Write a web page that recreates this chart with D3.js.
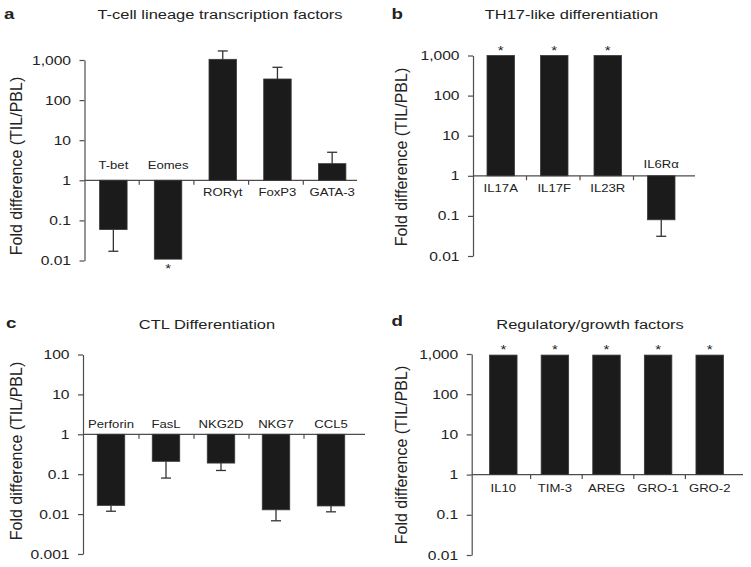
<!DOCTYPE html>
<html>
<head>
<meta charset="utf-8">
<script src="https://cdn.jsdelivr.net/npm/d3@7"></script>
<style>
  body { margin: 0; background: #fff; }
  text { font-family: "Liberation Sans", Arial, sans-serif; fill: #222; }
</style>
</head>
<body>
<svg id="chart" width="751" height="567"></svg>
<script>
// panel a: T-cell lineage transcription factors
var aGenes = ["T-bet", "Eomes", "RORγt", "FoxP3", "GATA-3"];
var aFold  = [0.059, 0.0108, 1040, 336, 2.6];
var aErr   = [0.017, null, 1680, 658, 5.0];
var aStar  = [false, true, false, false, false];

// panel b: TH17-like differentiation
var bGenes = ["IL17A", "IL17F", "IL23R", "IL6Rα"];
var bFold  = [1000, 1000, 1000, 0.08];
var bErr   = [null, null, null, 0.031];
var bStar  = [true, true, true, false];

// panel c: CTL differentiation
var cGenes = ["Perforin", "FasL", "NKG2D", "NKG7", "CCL5"];
var cFold  = [0.0165, 0.21, 0.19, 0.0128, 0.016];
var cErr   = [0.0118, 0.08, 0.124, 0.0068, 0.0114];
var cStar  = [false, false, false, false, false];

// panel d: regulatory/growth factors
var dGenes = ["IL10", "TIM-3", "AREG", "GRO-1", "GRO-2"];
var dFold  = [940, 940, 940, 940, 940];
var dErr   = [null, null, null, null, null];
var dStar  = [true, true, true, true, true];

var ticksHigh = [0.01, 0.1, 1, 10, 100, 1000];
var ticksLow  = [0.001, 0.01, 0.1, 1, 10, 100];

var svg = d3.select("#chart");
var SX = 1.25;          // the figure is a bit wider than tall, text too
var axisColor = "#4d4d4d";

function fmtTick(v) {
    return v >= 1 ? d3.format(",")(v) : String(v);
}

function addText(g, x, y, str, size, anchor, sx, weight) {
    return g.append("text")
        .attr("transform", "translate(" + x + "," + y + ") scale(" + sx + ",1)")
        .attr("text-anchor", anchor)
        .style("font-size", size + "px")
        .style("font-weight", weight || "normal")
        .text(str);
}

function drawPanel(p) {
    var g = svg.append("g");

    var y = d3.scaleLog().domain(p.domain).range(p.yRange);
    var x = d3.scaleBand().domain(p.genes).range(p.xRange).padding(0);
    var x0 = p.axisX, zero = y(1);

    // panel letter + title
    addText(g, p.letterX, p.letterY, p.letter, 15, "start", SX, "bold");
    addText(g, p.titleX, p.titleY, p.title, 13.5, "middle", 1.22);

    // y axis
    var axis = g.append("g")
        .attr("transform", "translate(" + x0 + ",0)")
        .call(d3.axisLeft(y).tickValues(p.ticks).tickFormat(fmtTick)
            .tickSize(5).tickSizeOuter(0));
    axis.attr("font-size", null).attr("font-family", null);
    axis.select(".domain").attr("stroke", axisColor).attr("stroke-width", 1.2);
    axis.selectAll(".tick line").attr("stroke", axisColor).attr("stroke-width", 1.2);
    axis.selectAll(".tick text")
        .attr("x", -13.5 / SX)
        .attr("transform", "scale(" + SX + ",1)")
        .attr("fill", "#222")
        .style("font-size", "12.5px");

    g.append("text")
        .attr("transform", "translate(" + p.yTitleX + "," + p.yTitleY + ") rotate(-90)")
        .attr("text-anchor", "middle")
        .style("font-size", "16px")
        .text("Fold difference (TIL/PBL)");

    // baseline at 1 and category ticks
    g.append("line")
        .attr("x1", x0).attr("x2", p.lineEnd)
        .attr("y1", zero).attr("y2", zero)
        .attr("stroke", axisColor).attr("stroke-width", 1.2);

    g.selectAll(".cat-tick").data(p.genes.slice(1)).enter()
        .append("line")
        .attr("x1", function(d) { return x(d); })
        .attr("x2", function(d) { return x(d); })
        .attr("y1", zero).attr("y2", zero + 4.5)
        .attr("stroke", axisColor).attr("stroke-width", 1.2);

    var bw = 27.5;
    p.genes.forEach(function(name, i) {
        var v = p.fold[i];
        var cx = x(name) + x.bandwidth() / 2 + p.shift;
        var yv = y(v);

        // error bar first so the bar covers its base
        if (p.err[i] != null) {
            var ye = y(p.err[i]);
            g.append("line")
                .attr("x1", cx).attr("x2", cx).attr("y1", yv).attr("y2", ye)
                .attr("stroke", "#333").attr("stroke-width", 1.3);
            g.append("line")
                .attr("x1", cx - 5).attr("x2", cx + 5).attr("y1", ye).attr("y2", ye)
                .attr("stroke", "#333").attr("stroke-width", 1.3);
        }

        g.append("rect")
            .attr("x", cx - bw / 2)
            .attr("y", Math.min(yv, zero))
            .attr("width", bw)
            .attr("height", Math.abs(yv - zero))
            .attr("fill", "#1b1b1b")
            .attr("stroke", "#3a3a3a").attr("stroke-width", 0.8);

        if (v >= 1) {
            addText(g, cx, zero + p.below, name, 10.5, "middle", SX);
            if (p.star[i]) addText(g, cx, yv - 1, "*", 12, "middle", SX);
        } else {
            addText(g, cx, zero - p.above, name, 10.5, "middle", SX);
            if (p.star[i]) addText(g, cx, yv + 14, "*", 12, "middle", SX);
        }
    });
}

drawPanel({
    letter: "a", letterX: 4, letterY: 19,
    title: "T-cell lineage transcription factors", titleX: 220, titleY: 18.5,
    genes: aGenes, fold: aFold, err: aErr, star: aStar,
    domain: [0.01, 1000], yRange: [260.5, 60], ticks: ticksHigh,
    axisX: 84.5, xRange: [84.5, 358], lineEnd: 357, shift: 1.5,
    yTitleX: 21.5, yTitleY: 166, above: 11, below: 16
});

drawPanel({
    letter: "b", letterX: 391.5, letterY: 19,
    title: "TH17-like differentiation", titleX: 571.5, titleY: 18.5,
    genes: bGenes, fold: bFold, err: bErr, star: bStar,
    domain: [0.01, 1000], yRange: [256, 55.5], ticks: ticksHigh,
    axisX: 473, xRange: [473, 687], lineEnd: 695, shift: 1,
    yTitleX: 406.5, yTitleY: 157, above: 8, below: 16
});

drawPanel({
    letter: "c", letterX: 6, letterY: 328,
    title: "CTL Differentiation", titleX: 207, titleY: 328.5,
    genes: cGenes, fold: cFold, err: cErr, star: cStar,
    domain: [0.001, 100], yRange: [554, 354.5], ticks: ticksLow,
    axisX: 83, xRange: [84, 359], lineEnd: 365, shift: -0.5,
    yTitleX: 21.5, yTitleY: 451, above: 6, below: 16
});

drawPanel({
    letter: "d", letterX: 391.5, letterY: 326,
    title: "Regulatory/growth factors", titleX: 590, titleY: 328.5,
    genes: dGenes, fold: dFold, err: dErr, star: dStar,
    domain: [0.01, 1000], yRange: [555, 354], ticks: ticksHigh,
    axisX: 471.7, xRange: [479, 737], lineEnd: 743, shift: -1.5,
    yTitleX: 406.5, yTitleY: 455, above: 8, below: 17
});
</script>
</body>
</html>
